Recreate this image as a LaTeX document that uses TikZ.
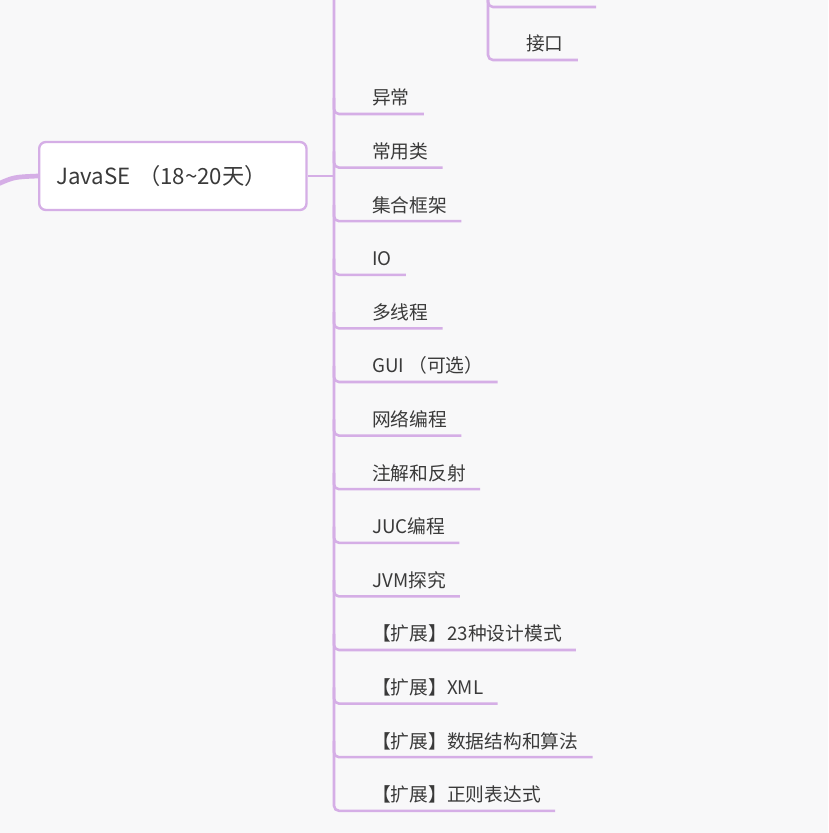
\documentclass[tikz,border=0pt]{standalone}
\usepackage{fontspec}
\setmainfont{Noto Sans CJK SC}
\definecolor{mapline}{HTML}{D5AEE6}
\definecolor{maptext}{HTML}{3A3A3A}
\definecolor{mapbg}{HTML}{F8F8F9}

\begin{document}
\begin{tikzpicture}[x=0.03cm,y=-0.03cm,
  link/.style={draw=mapline,line width=2.2pt,rounded corners=0.15cm},
  item/.style={anchor=south west,inner xsep=0.42cm,inner ysep=0pt,minimum height=0.96cm,text=maptext,font=\fontsize{16}{18}\selectfont},
  root/.style={draw=mapline,line width=2pt,fill=white,rounded corners=0.2cm,minimum height=2.04cm,text width=7cm,inner xsep=0.51cm,align=left,text=maptext,font=\fontsize{19}{22}\selectfont}]
\useasboundingbox (0,0) rectangle (828,833);
\fill[mapbg] (0,0) rectangle (828,833);
\clip (0,0) rectangle (828,833);
% trunk and parent link
\coordinate (trunk) at (334,-10);
\coordinate (sub) at (488,-10);
\coordinate (parent) at (-2,184);
\coordinate (hidden) at (596,7);
\node[root,anchor=west] (javase) at (38,176) {JavaSE （18\textasciitilde20天）};
\draw[link,line width=4pt,rounded corners=0pt] (parent) .. controls (14,177) .. (javase.west);
\draw[link] (javase.east) -- (trunk |- javase.east);
% upper sub branch
\node[item] (jiekou) at (512,60) {接口};
\draw[link] (sub) |- (hidden);
\draw[link] (sub) |- (jiekou.south east);
% branches
\foreach \t [count=\i] in {异常,常用类,集合框架,IO,多线程,GUI （可选）,网络编程,注解和反射,JUC编程,JVM探究,【扩展】23种设计模式,【扩展】XML,【扩展】数据结构和算法,【扩展】正则表达式}{
  \node[item] (b\i) at (358,60.4+53.6*\i) {\t};
}
\foreach \i in {1,...,13}{
  \draw[link] (trunk |- b\i.west) |- (b\i.south east);
}
\draw[link] (trunk) |- (b14.south east);
\end{tikzpicture}
\end{document}
